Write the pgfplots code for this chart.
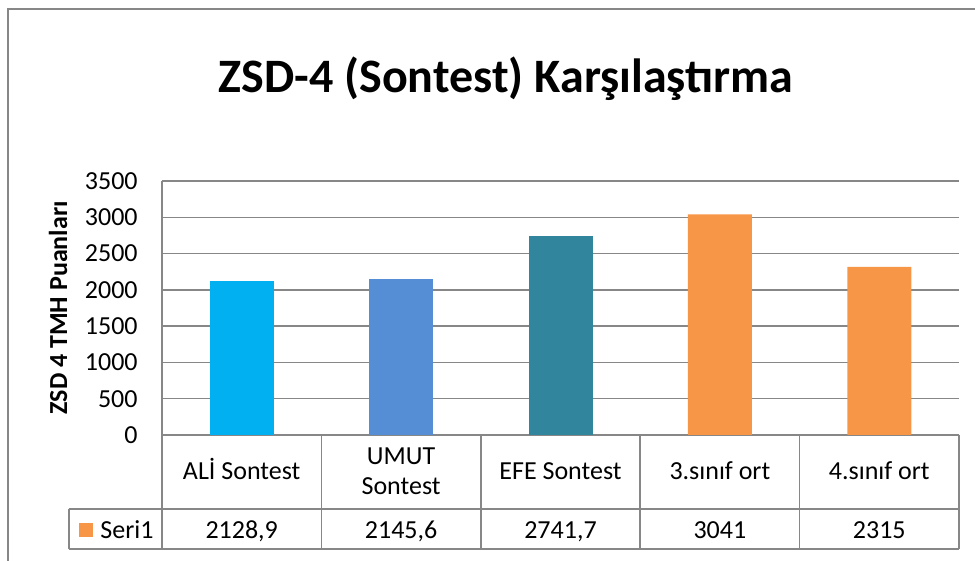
\documentclass[border=0pt]{standalone}
\usepackage{pgfplots}
\pgfplotsset{compat=1.18}
\usepackage{fontspec}
\setmainfont{Carlito}
\definecolor{cA}{HTML}{00B0F0}
\definecolor{cB}{HTML}{558ED5}
\definecolor{cC}{HTML}{31859C}
\definecolor{cD}{HTML}{F79646}
\definecolor{gridc}{HTML}{878787}
\newcommand{\twoline}[2]{\makebox[0pt][c]{\raisebox{7.5pt}[0pt][0pt]{#1}}\makebox[0pt][c]{\raisebox{-7.5pt}[0pt][0pt]{#2}}}
\begin{document}
\begin{tikzpicture}
\path[use as bounding box] (0,0) rectangle (487.5pt,-280.5pt);
% outer chart frame (cut at right and bottom)
\draw[gridc, line width=1pt] (4pt,-290pt) -- (4pt,-4.5pt) -- (495pt,-4.5pt);
\node[anchor=base, font=\fontsize{24}{28}\selectfont\bfseries] at (253pt,-46.5pt)
  {ZSD-4 (Sontest) Karşılaştırma};
\begin{axis}[
  at={(81pt,-90.5pt)}, anchor=north west,
  scale only axis, width=398.5pt, height=127pt,
  xmin=-0.5, xmax=4.5, ymin=0, ymax=3500,
  ytick={0,500,...,3500},
  xtick={0,...,4},
  xticklabels={ALİ Sontest,{\twoline{UMUT}{Sontest}},EFE Sontest,3.sınıf ort,4.sınıf ort},
  axis lines*=left,
  axis line style={gridc, line width=0.75pt},
  ymajorgrids, grid style={gridc, line width=0.75pt},
  major tick length=0pt,
  /pgf/number format/1000 sep={},
  /pgf/number format/assume math mode=true,
  tick label style={font=\fontsize{13}{16}\selectfont},
  yticklabel style={anchor=east, inner sep=0pt, xshift=-12pt},
  xticklabel style={anchor=base, yshift=-22.5pt},
  ylabel={ZSD 4 TMH Puanları},
  ylabel style={at={(axis description cs:-0.1305,0.5)}, anchor=center,
    font=\fontsize{13}{16}\selectfont\bfseries},
  clip=false,
]
\addplot[ybar, bar width=32pt, fill=cA, draw=none] coordinates {(0,2128.9)};
\addplot[ybar, bar width=32pt, fill=cB, draw=none] coordinates {(1,2145.6)};
\addplot[ybar, bar width=32pt, fill=cC, draw=none] coordinates {(2,2741.7)};
\addplot[ybar, bar width=32pt, fill=cD, draw=none] coordinates {(3,3041) (4,2315)};
% data table
\draw[gridc, line width=0.75pt]
  ([xshift=-46.5pt,yshift=-37pt]axis cs:-0.5,0) -- ([yshift=-37pt]axis cs:4.5,0)
  ([xshift=-46.5pt,yshift=-57pt]axis cs:-0.5,0) -- ([yshift=-57pt]axis cs:4.5,0)
  ([xshift=-46.5pt,yshift=-37pt]axis cs:-0.5,0) -- ([xshift=-46.5pt,yshift=-57pt]axis cs:-0.5,0)
  (axis cs:-0.5,0) -- ([yshift=-57pt]axis cs:-0.5,0)
  (axis cs:0.5,0) -- ([yshift=-57pt]axis cs:0.5,0)
  (axis cs:1.5,0) -- ([yshift=-57pt]axis cs:1.5,0)
  (axis cs:2.5,0) -- ([yshift=-57pt]axis cs:2.5,0)
  (axis cs:3.5,0) -- ([yshift=-57pt]axis cs:3.5,0)
  (axis cs:4.5,0) -- ([yshift=-57pt]axis cs:4.5,0);
\fill[cD] ([xshift=-41.5pt,yshift=-44pt]axis cs:-0.5,0) rectangle ([xshift=-34.5pt,yshift=-51pt]axis cs:-0.5,0);
\node[anchor=base west, inner sep=0pt, font=\fontsize{13}{16}\selectfont] at ([xshift=-31pt,yshift=-51.5pt]axis cs:-0.5,0) {Seri1};
\node[anchor=base, font=\fontsize{13}{16}\selectfont] at ([yshift=-51.5pt]axis cs:0,0) {2128,9};
\node[anchor=base, font=\fontsize{13}{16}\selectfont] at ([yshift=-51.5pt]axis cs:1,0) {2145,6};
\node[anchor=base, font=\fontsize{13}{16}\selectfont] at ([yshift=-51.5pt]axis cs:2,0) {2741,7};
\node[anchor=base, font=\fontsize{13}{16}\selectfont] at ([yshift=-51.5pt]axis cs:3,0) {3041};
\node[anchor=base, font=\fontsize{13}{16}\selectfont] at ([yshift=-51.5pt]axis cs:4,0) {2315};
\end{axis}
\end{tikzpicture}
\end{document}
